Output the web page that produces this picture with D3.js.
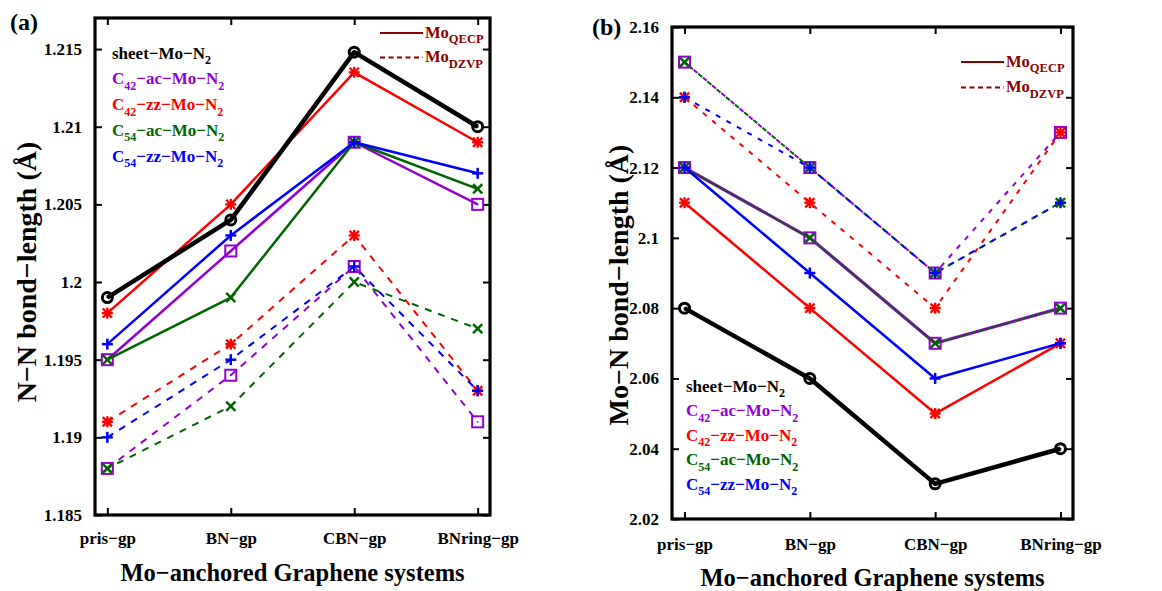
<!DOCTYPE html>
<html>
<head>
<meta charset="utf-8">
<script src="https://cdn.jsdelivr.net/npm/d3@7"></script>
<style>
html, body { margin: 0; padding: 0; background: #fff; }
svg { display: block; font-family: "Liberation Serif", "Times New Roman", serif; font-weight: bold; }
</style>
</head>
<body>
<svg id="chart" width="1162" height="591"></svg>
<script>
// ---- data ----
const categories = ["pris\u2212gp", "BN\u2212gp", "CBN\u2212gp", "BNring\u2212gp"];

const nnTicks = [1.185, 1.19, 1.195, 1.2, 1.205, 1.21, 1.215];
const nnTickLabels = ["1.185", "1.19", "1.195", "1.2", "1.205", "1.21", "1.215"];
const moTicks = [2.02, 2.04, 2.06, 2.08, 2.1, 2.12, 2.14, 2.16];
const moTickLabels = ["2.02", "2.04", "2.06", "2.08", "2.1", "2.12", "2.14", "2.16"];

const seriesNames = ["sheet", "c42ac", "c42zz", "c54ac", "c54zz"];
const seriesColors = ["#000000", "#9400d3", "#ff0000", "#006400", "#0000ff"];
const seriesMarkers = ["circle", "square", "star", "cross", "plus"];

// N–N bond length (Å), QECP basis on Mo
const nnQecpSheet = [1.199, 1.204, 1.2148, 1.210];
const nnQecpC42ac = [1.195, 1.202, 1.209, 1.205];
const nnQecpC42zz = [1.198, 1.205, 1.2135, 1.209];
const nnQecpC54ac = [1.195, 1.199, 1.209, 1.206];
const nnQecpC54zz = [1.196, 1.203, 1.209, 1.207];
// N–N bond length (Å), DZVP basis on Mo
const nnDzvpC42ac = [1.188, 1.194, 1.201, 1.191];
const nnDzvpC42zz = [1.191, 1.196, 1.203, 1.193];
const nnDzvpC54ac = [1.188, 1.192, 1.200, 1.197];
const nnDzvpC54zz = [1.190, 1.195, 1.201, 1.193];

// Mo–N bond length (Å), QECP basis on Mo
const moQecpSheet = [2.08, 2.06, 2.03, 2.04];
const moQecpC42ac = [2.12, 2.10, 2.07, 2.08];
const moQecpC42zz = [2.11, 2.08, 2.05, 2.07];
const moQecpC54ac = [2.12, 2.10, 2.07, 2.08];
const moQecpC54zz = [2.12, 2.09, 2.06, 2.07];
// Mo–N bond length (Å), DZVP basis on Mo
const moDzvpC42ac = [2.15, 2.12, 2.09, 2.13];
const moDzvpC42zz = [2.14, 2.11, 2.08, 2.13];
const moDzvpC54ac = [2.15, 2.12, 2.09, 2.11];
const moDzvpC54zz = [2.14, 2.12, 2.09, 2.11];

// legend entries: [text, isSubscript] pieces
const legendLabels = [
  [["sheet\u2212Mo\u2212N", 0], ["2", 1]],
  [["C", 0], ["42", 1], ["\u2212ac\u2212Mo\u2212N", 0], ["2", 1]],
  [["C", 0], ["42", 1], ["\u2212zz\u2212Mo\u2212N", 0], ["2", 1]],
  [["C", 0], ["54", 1], ["\u2212ac\u2212Mo\u2212N", 0], ["2", 1]],
  [["C", 0], ["54", 1], ["\u2212zz\u2212Mo\u2212N", 0], ["2", 1]]
];
const basisLabels = [[["Mo", 0], ["QECP", 1]], [["Mo", 0], ["DZVP", 1]]];

// ---- drawing ----
const svg = d3.select("#chart");
const legendRed = "#8b0000";

function richText(g, x, y, parts, size, subSize, color) {
  const t = g.append("text").attr("x", x).attr("y", y)
    .attr("font-size", size).attr("fill", color);
  let lowered = false;
  parts.forEach(([s, sub]) => {
    const sp = t.append("tspan").text(s);
    if (sub && !lowered) { sp.attr("dy", 5.5).attr("font-size", subSize); lowered = true; }
    else if (sub) { sp.attr("font-size", subSize); }
    else if (!sub && lowered) { sp.attr("dy", -5.5); lowered = false; }
  });
  return t;
}

function drawMarker(g, type, x, y, color) {
  const m = g.append("g").attr("transform", `translate(${x},${y})`)
    .attr("stroke", color).attr("fill", "none");
  if (type === "circle") {
    m.append("circle").attr("r", 5).attr("stroke-width", 3);
    m.append("circle").attr("r", 1).attr("fill", color).attr("stroke", "none");
  } else if (type === "square") {
    m.append("rect").attr("x", -5.5).attr("y", -5.5).attr("width", 11).attr("height", 11).attr("stroke-width", 2);
    m.append("circle").attr("r", 0.9).attr("fill", color).attr("stroke", "none");
  } else {
    const h = 5.5, d = 4.6;
    const segs = [];
    if (type === "plus" || type === "star") segs.push([-h, 0, h, 0], [0, -h, 0, h]);
    if (type === "cross" || type === "star") segs.push([-d, -d, d, d], [-d, d, d, -d]);
    segs.forEach(s => m.append("line").attr("x1", s[0]).attr("y1", s[1]).attr("x2", s[2]).attr("y2", s[3])
      .attr("stroke-width", type === "star" ? 2.4 : 2.5));
  }
}

function drawPanel(cfg) {
  const g = svg.append("g");
  const x = d3.scaleLinear().domain([-0.1, 3.1]).range([cfg.x0, cfg.x1]);
  const y = d3.scaleLinear().domain(cfg.yDomain).range([cfg.y1, cfg.y0]);
  const idx = d3.range(categories.length);

  // axes with inward ticks on all four sides
  const styleAxis = sel => {
    sel.select(".domain").remove();
    sel.selectAll(".tick line").attr("stroke", "#000").attr("stroke-width", 2);
    sel.selectAll(".tick text").attr("fill", "#000").attr("font-size", 17)
      .attr("font-family", "Liberation Serif, serif").attr("font-weight", "bold");
  };
  g.append("g").attr("transform", `translate(${cfg.x0},0)`)
    .call(d3.axisLeft(y).tickValues(cfg.ticks).tickFormat((d, i) => cfg.tickLabels[i]).tickSize(-7).tickPadding(13))
    .call(styleAxis);
  g.append("g").attr("transform", `translate(${cfg.x1},0)`)
    .call(d3.axisRight(y).tickValues(cfg.ticks).tickFormat("").tickSize(-7))
    .call(styleAxis);
  g.append("g").attr("transform", `translate(0,${cfg.y1})`)
    .call(d3.axisBottom(x).tickValues(idx).tickFormat(i => categories[i]).tickSize(-7).tickPadding(cfg.catPad))
    .call(styleAxis);
  g.append("g").attr("transform", `translate(0,${cfg.y0})`)
    .call(d3.axisTop(x).tickValues(idx).tickFormat("").tickSize(-7))
    .call(styleAxis);

  g.append("rect").attr("x", cfg.x0).attr("y", cfg.y0)
    .attr("width", cfg.x1 - cfg.x0).attr("height", cfg.y1 - cfg.y0)
    .attr("fill", "none").attr("stroke", "#000").attr("stroke-width", 3.2);

  const line = d3.line().x((d, i) => x(i)).y(d => y(d));
  const plot = g.append("g");

  // dashed (DZVP) curves
  cfg.dashed.forEach(s => {
    plot.append("path").datum(s.values).attr("d", line)
      .attr("fill", "none").attr("stroke", s.color).attr("stroke-width", 2)
      .attr("stroke-dasharray", s.dash).attr("stroke-dashoffset", s.offset || 0);
  });
  cfg.dashed.forEach(s => s.values.forEach((v, i) => drawMarker(plot, s.marker, x(i), y(v), s.color)));

  // solid (QECP) curves
  cfg.solid.forEach(s => {
    plot.append("path").datum(s.values).attr("d", line)
      .attr("fill", "none").attr("stroke", s.color).attr("stroke-width", s.width)
      .attr("stroke-linejoin", "round");
    s.values.forEach((v, i) => drawMarker(plot, s.marker, x(i), y(v), s.color));
  });

  // series legend
  legendLabels.forEach((parts, i) => {
    richText(g, cfg.legX, cfg.legY + i * cfg.legStep, parts, 17, 12, seriesColors[i]);
  });

  // basis legend
  basisLabels.forEach((parts, i) => {
    const ly = cfg.basisY + i * cfg.basisStep;
    g.append("line").attr("x1", cfg.basisX0).attr("x2", cfg.basisX1)
      .attr("y1", ly).attr("y2", ly).attr("stroke", legendRed).attr("stroke-width", 2)
      .attr("stroke-dasharray", i === 0 ? null : "5,3.5");
    richText(g, cfg.basisX1 + 2, ly + 4.5, parts, 16.5, 12.5, legendRed);
  });

  // titles
  g.append("text").attr("x", cfg.xTitleX).attr("y", cfg.xTitleY)
    .attr("text-anchor", "middle").attr("font-size", 24.5).text("Mo\u2212anchored Graphene systems");
  g.append("text").attr("transform", `translate(${cfg.yTitleX},${cfg.yTitleY}) rotate(-90)`)
    .attr("text-anchor", "middle").attr("font-size", 28).text(cfg.yTitle);
  g.append("text").attr("x", cfg.tagX).attr("y", cfg.tagY).attr("font-size", 24).text(cfg.tag);
}

function makeSeries(list, dashed, dash, offsets) {
  return list.map((vals, k) => {
    const j = seriesNames.indexOf(vals[0]);
    return {
      values: vals[1], color: seriesColors[j], marker: seriesMarkers[j],
      width: j === 0 ? 4.5 : (vals[2] || 2.5), dash: dash, offset: offsets ? offsets[k] : 0
    };
  });
}

drawPanel({
  x0: 95, x1: 490, y0: 18, y1: 515, yDomain: [1.185, 1.217],
  ticks: nnTicks, tickLabels: nnTickLabels, catPad: 17,
  solid: makeSeries([["c42ac", nnQecpC42ac], ["c42zz", nnQecpC42zz], ["c54ac", nnQecpC54ac],
                     ["c54zz", nnQecpC54zz], ["sheet", nnQecpSheet]], false),
  dashed: makeSeries([["c42ac", nnDzvpC42ac], ["c42zz", nnDzvpC42zz], ["c54ac", nnDzvpC54ac],
                      ["c54zz", nnDzvpC54zz]], true, "7,7", [0, 0, 3, 0]),
  legX: 112, legY: 58.5, legStep: 25.8,
  basisX0: 380, basisX1: 423, basisY: 33, basisStep: 24.5,
  xTitleX: 292.5, xTitleY: 581, yTitleX: 36, yTitleY: 272,
  yTitle: "N\u2212N bond\u2212length (\u00c5)", tag: "(a)", tagX: 10, tagY: 30
});

drawPanel({
  x0: 672, x1: 1073, y0: 27, y1: 519, yDomain: [2.02, 2.16],
  ticks: moTicks, tickLabels: moTickLabels, catPad: 19,
  solid: makeSeries([["c42ac", moQecpC42ac, 3.2], ["c42zz", moQecpC42zz], ["c54ac", moQecpC54ac, 1.3],
                     ["c54zz", moQecpC54zz], ["sheet", moQecpSheet]], false),
  dashed: makeSeries([["c42ac", moDzvpC42ac], ["c42zz", moDzvpC42zz], ["c54ac", moDzvpC54ac],
                      ["c54zz", moDzvpC54zz]], true, "5,7", [0, 0, 6, 0]),
  legX: 686, legY: 391.5, legStep: 24.5,
  basisX0: 961, basisX1: 1004, basisY: 62, basisStep: 25.5,
  xTitleX: 872.5, xTitleY: 586, yTitleX: 628, yTitleY: 285,
  yTitle: "Mo\u2212N bond\u2212length (\u00c5)", tag: "(b)", tagX: 592, tagY: 35
});
</script>
</body>
</html>
